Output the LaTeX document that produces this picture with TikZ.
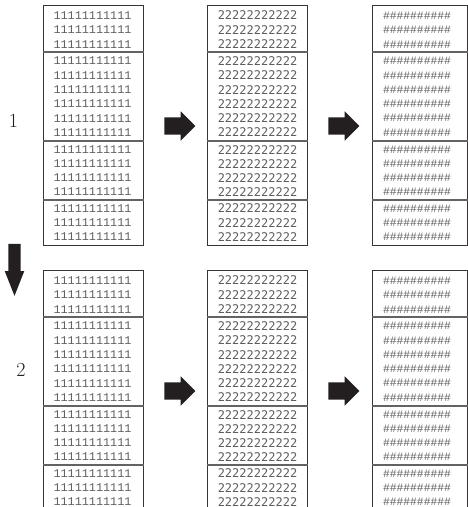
\documentclass[tikz,border=0pt]{standalone}
\usepackage{fontspec}
\usetikzlibrary{shapes.arrows,calc}
\newfontfamily\onesfont{Liberation Mono}
\newfontfamily\twosfont{DejaVu Sans Mono}
\definecolor{txt}{HTML}{5E5E5E}
\definecolor{ink}{HTML}{231F20}
\newcommand\onesline{11111111111}
\newcommand\twosline{22222222222}
\newcommand\hashline{\#\#\#\#\#\#\#\#\#\#}
\begin{document}
\begin{tikzpicture}[x=1pt,y=-1pt,
  box/.style={draw=ink!90, line width=1.4pt, inner sep=0pt, minimum height=240pt},
  divider/.style={draw=ink!70, line width=1.1pt},
  onestext/.style={inner sep=0pt, text=txt, font=\onesfont\fontsize{11.8}{12}\selectfont},
  twostext/.style={inner sep=0pt, text=txt, font=\twosfont\fontsize{12}{12}\selectfont},
  hashtext/.style={inner sep=0pt, text=txt, font=\onesfont\fontsize{11.3}{12}\selectfont},
  rarrow/.style={single arrow, fill=ink, draw=none, inner sep=0pt, text height=17pt,
    text depth=0pt, minimum width=29pt, minimum height=31pt, single arrow head extend=6pt},
  darrow/.style={single arrow, fill=ink, draw=none, inner sep=0pt, text height=12pt,
    text depth=0pt, minimum width=19pt, minimum height=52pt, single arrow head extend=3.5pt,
    single arrow tip angle=43, rotate=-90},
  lab/.style={inner sep=0pt, font=\fontsize{20}{20}\selectfont, text=ink}
  ]
\useasboundingbox (0,0) rectangle (468,507);
\clip (0,0) rectangle (468,507);
\fill[white] (0,0) rectangle (468,507);

\foreach \r/\top in {1/5, 2/270} {
  % boxes
  \node[box, minimum width=100pt, anchor=north west] (b\r a) at (43,\top) {};
  \node[box, minimum width=100pt, anchor=north west] (b\r b) at (207,\top) {};
  \node[box, minimum width=95pt, anchor=north west] (b\r c) at (372,\top) {};
  % dividers
  \foreach \c in {a,b,c} {
    \foreach \dv in {47,136,195} {
      \draw[divider] ($(b\r\c.north west)+(0,\dv)$) -- ($(b\r\c.north east)+(0,\dv)$);
    }
  }
  % text lines
  \foreach \dy [count=\i] in {10.5,25,39.5,56,70.3,84.6,98.9,113.2,127.5,145,159,173,187,203.5,217.7,232} {
    \node[onestext] (t\r a\i) at (92.5,\top+\dy) {\onesline};
    \node[twostext] (t\r b\i) at (257.5,\top+\dy) {\twosline};
    \node[hashtext] (t\r c\i) at (417,\top+\dy) {\hashline};
  }
}

% block arrows
\node[rarrow] (r1) at (175.5,126) {};
\node[rarrow] (r2) at (339.5,126) {};
\node[rarrow] (r3) at (175.5,391) {};
\node[rarrow] (r4) at (339.5,391) {};
\node[darrow] (d1) at (14.5,262) {};

% labels
\node[lab] (l1) at (13.5,121) {1};
\node[lab] (l2) at (21,370) {2};
\end{tikzpicture}
\end{document}
